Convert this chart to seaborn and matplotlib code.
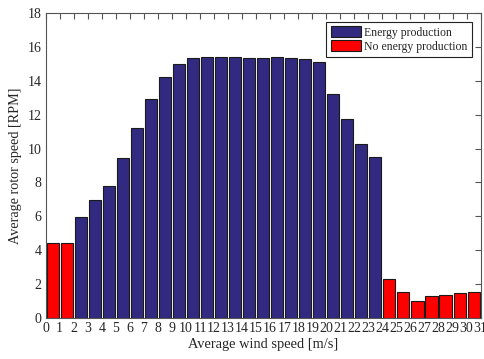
import numpy as np
import pandas as pd
import matplotlib as mpl
mpl.use('Agg')
import matplotlib.pyplot as plt
import seaborn as sns

# average wind speed bins [m/s] and average rotor speed [RPM]
wind_bins = list(range(31))
rotor_rpm = [4.42, 4.42, 5.95, 6.98, 7.81, 9.43, 11.2, 12.9, 14.2, 14.97,
             15.35, 15.4, 15.4, 15.4, 15.35, 15.38, 15.41, 15.38, 15.28, 15.1,
             13.25, 11.75, 10.25, 9.47, 2.3, 1.52, 0.99, 1.28, 1.33, 1.48, 1.52]
status = (['No energy production'] * 2 + ['Energy production'] * 22
          + ['No energy production'] * 7)
tick_labels = [str(v) for v in range(32)]

sns.set_style('white')
plt.rcParams['font.family'] = ['Liberation Serif', 'DejaVu Serif']
plt.rcParams['font.size'] = 10

df = pd.DataFrame({'wind': wind_bins, 'rpm': rotor_rpm, 'status': status})

fig = plt.figure(figsize=(4.84, 3.59), dpi=100)
ax = fig.add_axes([45.7 / 484, 1 - 317.7 / 359, (480.6 - 45.7) / 484, (317.7 - 13.2) / 359])

sns.barplot(data=df, x='wind', y='rpm', hue='status',
            hue_order=['Energy production', 'No energy production'],
            palette={'Energy production': '#312a80', 'No energy production': '#ff0000'},
            dodge=False, width=0.86, edgecolor='#1a1a1a', linewidth=0.8,
            saturation=1, ax=ax)

ax.set_xlim(-0.5, 30.5)
ax.set_ylim(0, 18)
ax.set_xticks(np.arange(32) - 0.5)
ax.set_xticklabels(tick_labels)
ax.set_yticks(np.arange(0, 19, 2))
ax.tick_params(direction='in', top=True, right=True, length=4, width=0.8,
               color='#555555', labelsize=10, pad=3)
for s in ax.spines.values():
    s.set_color('#555555')
    s.set_linewidth(0.8)

ax.set_xlabel('Average wind speed [m/s]', fontsize=10.4, labelpad=2)
ax.set_ylabel('Average rotor speed [RPM]', fontsize=10.2, labelpad=4)

leg = ax.legend(loc='upper right', title=None, fontsize=8.5, handlelength=2.6,
                handleheight=1.0, handletextpad=0.25, borderaxespad=0.75,
                borderpad=0.35, labelspacing=0.15, fancybox=False, framealpha=1,
                edgecolor='#222222')
leg.get_frame().set_linewidth(0.8)

fig.savefig('out.png', dpi=100)
